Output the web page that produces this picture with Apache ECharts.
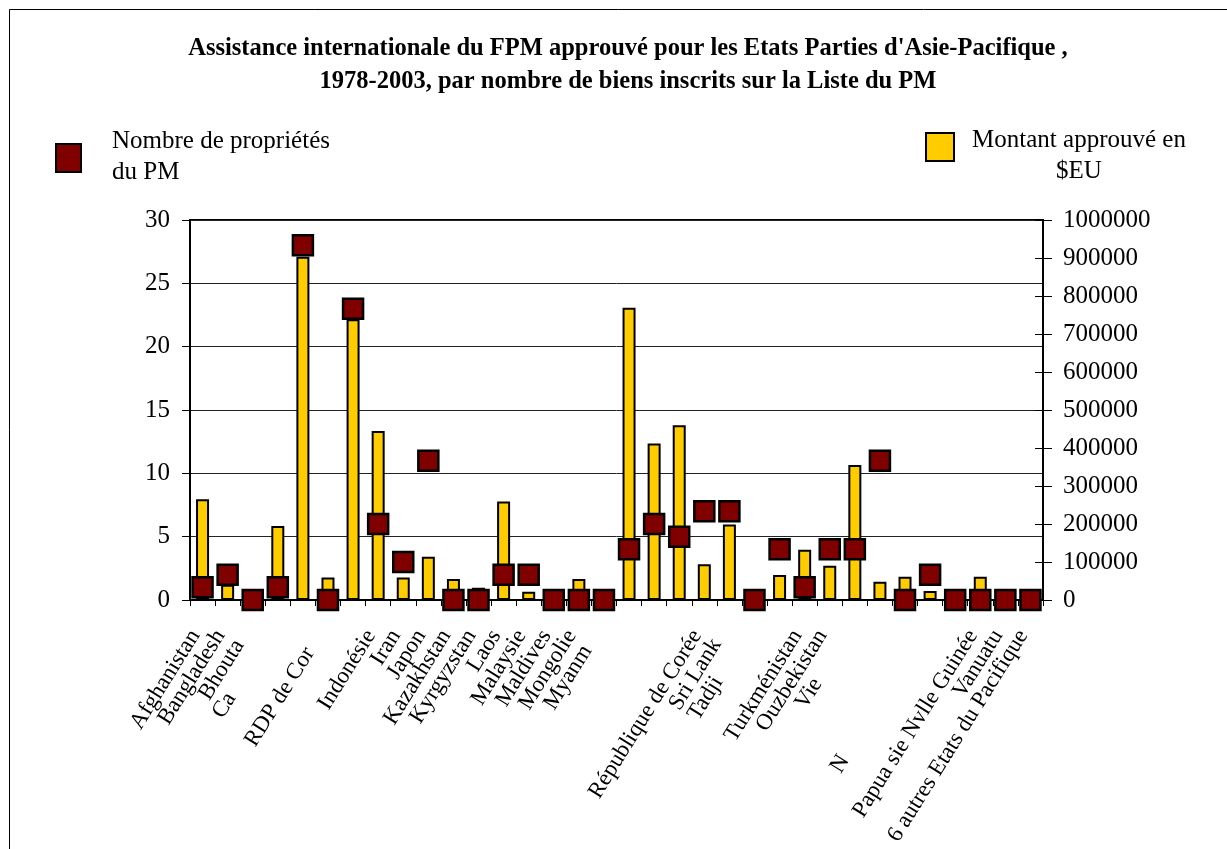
<!DOCTYPE html>
<html>
<head>
<meta charset="utf-8">
<script src="https://cdn.jsdelivr.net/npm/echarts@6/dist/echarts.min.js"></script>
<style>
  html, body { margin: 0; padding: 0; background: #fff; }
  #chart { width: 1227px; height: 849px; }
</style>
</head>
<body>
<div id="chart"></div>
<script>
// Asia-Pacific States Parties, in chart order
const categories = [
  'Afghanistan', 'Bangladesh', 'Bhoutan', 'Cambodge', 'Chine', 'RDP de Corée',
  'Inde', 'Indonésie', 'Iran', 'Japon', 'Kazakhstan', 'Kyrgyzstan', 'Laos',
  'Malaysie', 'Maldives', 'Mongolie', 'Myanmar', 'Népal', 'Pakistan',
  'Philippines', 'République de Corée', 'Sri Lanka', 'Tadjikistan', 'Thaïlande',
  'Turkménistan', 'Ouzbekistan', 'Viet Nam', 'Australie', 'Fidji',
  'Nouvelle Zélande', 'Palaos', 'Papua sie Nvlle Guinée', 'Vanuatu',
  '6 autres Etats du Pacifique'
];

// Printed part of each category label (the rest of the name stays blank)
const tickLabels = [
  'Afghanistan', 'Bangladesh', 'Bhouta', 'Ca', '', 'RDP de Cor',
  '', 'Indonésie', 'Iran', 'Japon', 'Kazakhstan', 'Kyrgyzstan', 'Laos',
  'Malaysie', 'Maldives', 'Mongolie', 'Myanm', '', '',
  '', 'République de Corée', 'Sri Lank', 'Tadji', '',
  'Turkménistan', 'Ouzbekistan', 'Vie', '', '',
  'N', '', 'Papua sie Nvlle Guinée', 'Vanuatu',
  '6 autres Etats du Pacifique'
];

// Number of World Heritage properties (left axis)
const sites = [
  1, 2, 0, 1, 28, 0,
  23, 6, 3, 11, 0, 0, 2,
  2, 0, 0, 0, 4, 6,
  5, 7, 7, 0, 4,
  1, 4, 4, 11, 0,
  2, 0, 0, 0,
  0
];

// Approved amount in US$ (right axis)
const amounts = [
  265000, 40000, 0, 195000, 903000, 59000,
  739000, 445000, 59000, 114000, 55000, 32000, 259000,
  22000, 0, 55000, 0, 769000, 412000,
  460000, 94000, 199000, 0, 66000,
  132000, 90000, 355000, 48000, 61000,
  24000, 0, 61000, 0,
  0
];

const leftTicks = [0, 5, 10, 15, 20, 25, 30];
const rightTicks = [0, 100000, 200000, 300000, 400000, 500000, 600000, 700000, 800000, 900000, 1000000];

const titleLines = [
  "Assistance internationale du FPM approuvé pour les Etats Parties d'Asie-Pacifique ,",
  '1978-2003, par nombre de biens inscrits sur la Liste du PM'
];
const sitesName = ['Nombre de propriétés', 'du PM'];
const amountsName = ['Montant approuvé en', '$EU'];

const SERIF = '"Liberation Serif", "Times New Roman", serif';
const RED = '#800000';
const YELLOW = '#FFCC00';

const chart = echarts.init(document.getElementById('chart'), null, { renderer: 'canvas' });

const option = {
  backgroundColor: '#ffffff',
  animation: false,
  textStyle: { fontFamily: SERIF, color: '#000' },
  grid: {
    left: 190, right: 184, top: 220, bottom: 249,
    show: true, borderColor: '#000', borderWidth: 2,
    outerBoundsMode: 'none'
  },
  graphic: [
    // outer frame
    { type: 'rect', silent: true, z: 0,
      shape: { x: 9.5, y: 9.5, width: 1400, height: 1000 },
      style: { fill: 'none', stroke: '#000', lineWidth: 1 } },
    // title
    { type: 'text', x: 628, y: 32, silent: true,
      style: { text: titleLines.join('\n'), font: 'bold 24.5px ' + SERIF,
               fill: '#000', textAlign: 'center', lineHeight: 33 } },
    // legend: properties
    { type: 'rect', silent: true,
      shape: { x: 56, y: 144, width: 25, height: 28 },
      style: { fill: RED, stroke: '#000', lineWidth: 2 } },
    { type: 'text', left: 112, top: 126, silent: true,
      style: { text: sitesName.join('\n'), font: '25px ' + SERIF,
               fill: '#000', lineHeight: 31 } },
    // legend: amounts
    { type: 'rect', silent: true,
      shape: { x: 926, y: 133, width: 28, height: 28 },
      style: { fill: YELLOW, stroke: '#000', lineWidth: 2 } },
    { type: 'text', x: 1079, y: 125, silent: true,
      style: { text: amountsName.join('\n'), font: '25px ' + SERIF,
               fill: '#000', textAlign: 'center', lineHeight: 31 } }
  ],
  xAxis: {
    type: 'category',
    data: categories,
    boundaryGap: true,
    axisLine: { show: true, lineStyle: { color: '#000', width: 2 } },
    axisTick: { show: true, alignWithLabel: false, interval: 0, length: 6,
                lineStyle: { color: '#000', width: 1 } },
    axisLabel: {
      interval: 0, rotate: 58, margin: 20,
      fontFamily: SERIF, fontSize: 23, color: '#000',
      padding: [0, 14, 0, 0],
      formatter: function (value, index) {
        const shown = tickLabels[index];
        if (!shown) return '';
        const rest = value.slice(shown.length);
        return '{v|' + shown + '}' + (rest ? '{h|' + rest + '}' : '');
      },
      rich: {
        v: { fontFamily: SERIF, fontSize: 23, color: '#000' },
        h: { fontFamily: SERIF, fontSize: 23, color: 'rgba(0,0,0,0)' }
      }
    },
    splitLine: { show: false }
  },
  yAxis: [
    {
      type: 'value', position: 'left',
      min: leftTicks[0], max: leftTicks[leftTicks.length - 1], interval: 5,
      axisLine: { show: true, lineStyle: { color: '#000', width: 2 } },
      axisTick: { show: true, length: 8, lineStyle: { color: '#000', width: 1 } },
      axisLabel: { margin: 20, fontFamily: SERIF, fontSize: 25, color: '#000' },
      splitLine: { show: true, lineStyle: { color: '#222', width: 1 } }
    },
    {
      type: 'value', position: 'right',
      min: rightTicks[0], max: rightTicks[rightTicks.length - 1], interval: 100000,
      axisLine: { show: true, lineStyle: { color: '#000', width: 2 } },
      axisTick: { show: true, length: 9, lineStyle: { color: '#000', width: 1 } },
      axisLabel: { margin: 20, fontFamily: SERIF, fontSize: 25, color: '#000',
                   formatter: function (v) { return String(v); } },
      splitLine: { show: false }
    },
    {
      // inner half of the cross ticks on the right axis
      type: 'value', position: 'right',
      min: rightTicks[0], max: rightTicks[rightTicks.length - 1], interval: 100000,
      axisLine: { show: false },
      axisTick: { show: true, inside: true, length: 8, lineStyle: { color: '#000', width: 1 } },
      axisLabel: { show: false },
      splitLine: { show: false }
    }
  ],
  series: [
    {
      name: amountsName.join(' '),
      type: 'bar',
      yAxisIndex: 1,
      data: amounts,
      barWidth: 13,
      z: 2,
      itemStyle: { color: YELLOW, borderColor: '#000', borderWidth: 2 }
    },
    {
      name: sitesName.join(' '),
      type: 'scatter',
      yAxisIndex: 0,
      data: sites,
      symbol: 'rect',
      symbolSize: 20,
      z: 3,
      itemStyle: { color: RED, borderColor: '#000', borderWidth: 2.5, opacity: 1 }
    }
  ]
};

chart.setOption(option);
</script>
</body>
</html>
